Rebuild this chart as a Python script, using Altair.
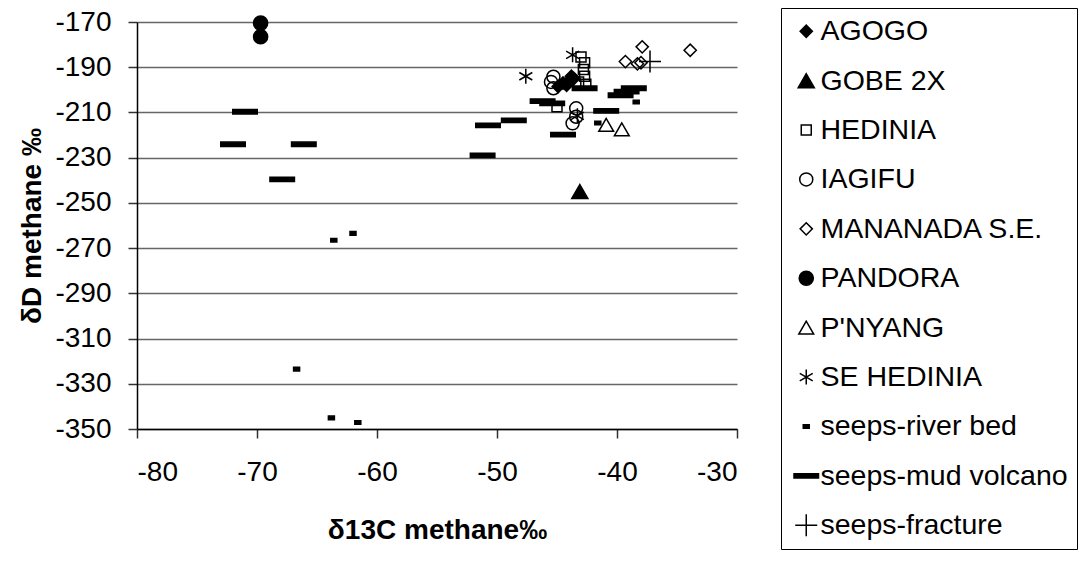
import altair as alt
import pandas as pd

series_names = ["AGOGO", "GOBE 2X", "HEDINIA", "IAGIFU", "MANANADA S.E.", "PANDORA",
                "P'NYANG", "SE HEDINIA", "seeps-river bed", "seeps-mud volcano", "seeps-fracture"]

agogo_x = [-44.9, -44.5, -44.0, -43.6, -44.2, -43.8]
agogo_y = [-198.5, -197.0, -196.0, -195.0, -198.0, -194.0]
gobe_x = [-43.1]
gobe_y = [-245.0]
hedinia_x = [-43.0, -42.7, -42.8, -42.7, -43.2, -42.6, -45.0]
hedinia_y = [-185.5, -188.0, -191.0, -194.0, -196.5, -197.5, -207.5]
iagifu_x = [-45.3, -45.3, -45.5, -43.4, -43.4, -43.7]
iagifu_y = [-194.2, -199.3, -196.5, -208.2, -211.9, -214.8]
mananada_x = [-37.9, -33.9, -39.3, -38.3, -38.0]
mananada_y = [-181.0, -182.5, -187.5, -188.5, -188.0]
pandora_x = [-69.7, -69.7]
pandora_y = [-170.5, -176.5]
pnyang_x = [-40.9, -39.6]
pnyang_y = [-215.5, -217.5]
sehed_x = [-47.6, -43.7, -43.3]
sehed_y = [-194.0, -184.5, -211.5]
river_x = [-62.0, -63.6, -66.7, -63.8, -61.6, -38.4, -41.6]
river_y = [-263.5, -266.5, -323.5, -345.1, -347.1, -205.4, -214.7]
mud_x = [-71.0, -72.0, -66.1, -67.9, -51.2, -50.75, -48.6, -46.2, -45.4, -44.5,
         -42.7, -40.9, -39.7, -39.2, -38.6]
mud_y = [-209.7, -224.1, -224.1, -239.6, -229.0, -215.7, -213.5, -205.0, -206.0, -219.8,
         -199.3, -209.3, -202.4, -200.8, -199.3]
frac_x = [-37.25]
frac_y = [-187.5]

x_ticks = [-80, -70, -60, -50, -40, -30]
y_ticks = [-350, -330, -310, -290, -270, -250, -230, -210, -190, -170]

all_x = [agogo_x, gobe_x, hedinia_x, iagifu_x, mananada_x, pandora_x, pnyang_x,
         sehed_x, river_x, mud_x, frac_x]
all_y = [agogo_y, gobe_y, hedinia_y, iagifu_y, mananada_y, pandora_y, pnyang_y,
         sehed_y, river_y, mud_y, frac_y]

rows = []
for name, xs, ys in zip(series_names, all_x, all_y):
    for xv, yv in zip(xs, ys):
        rows.append({"series": name, "x": xv, "y": yv})
df = pd.DataFrame(rows)

asterisk = "M0,-1V1M-0.866,-0.5L0.866,0.5M-0.866,0.5L0.866,-0.5"
river_shape = "M-1,-0.6H1V0.6H-1Z"
mud_shape = "M-1,-0.18H1V0.18H-1Z"
plus_shape = "M-1,0H1M0,-1V1"

shapes = ["diamond", "triangle-up", "square", "circle", "diamond", "circle",
          "triangle-up", asterisk, river_shape, mud_shape, plus_shape]
fills = ["black", "black", "transparent", "transparent", "transparent", "black",
         "transparent", "transparent", "black", "black", "transparent"]
strokes = ["black"] * len(series_names)
sizes = [150, 260, 100, 170, 150, 200, 220, 225, 36, 600, 484]

font = "Liberation Sans"

chart = alt.Chart(df).mark_point(
    filled=True, strokeWidth=1.5, opacity=1
).encode(
    x=alt.X("x:Q", scale=alt.Scale(domain=[-80, -30], nice=False, zero=False),
            axis=alt.Axis(values=x_ticks, grid=False, title="δ13C methane‰",
                          labelExpr="datum.value + ''",
                          labelPadding=20, titlePadding=30)),
    y=alt.Y("y:Q", scale=alt.Scale(domain=[-350, -170], nice=False, zero=False),
            axis=alt.Axis(values=y_ticks, grid=True, title="δD methane ‰",
                          labelExpr="datum.value + ''",
                          labelPadding=17, titlePadding=8)),
    shape=alt.Shape("series:N", sort=series_names,
                    scale=alt.Scale(domain=series_names, range=shapes)),
    fill=alt.Fill("series:N", sort=series_names,
                  scale=alt.Scale(domain=series_names, range=fills)),
    stroke=alt.Stroke("series:N", sort=series_names,
                      scale=alt.Scale(domain=series_names, range=strokes)),
    size=alt.Size("series:N", sort=series_names,
                  scale=alt.Scale(type="ordinal", domain=series_names, range=sizes)),
).properties(
    width=600, height=407,
    padding={"left": 129, "top": 14, "right": 341, "bottom": 124},
    autosize=alt.AutoSizeParams(type="none"),
).configure_view(
    stroke=None
).configure_axis(
    labelFont=font, labelFontSize=28, labelColor="black",
    titleFont=font, titleFontSize=28, titleFontWeight="bold", titleColor="black",
    domainColor="black", domainWidth=1.5, tickColor="#333333", tickSize=9, tickWidth=1.5,
    gridColor="#666666", gridWidth=1.5,
).configure_legend(
    orient="none", legendX=644, legendY=-14, title=None,
    strokeColor="black", padding=9, fillColor="white",
    labelFont=font, labelFontSize=28.5, labelColor="black", labelOffset=0,
    symbolOffset=2, rowPadding=20.4, symbolStrokeWidth=1.5,
    labelLimit=400,
)

chart.save("out.html", embed_options={"renderer": "svg", "actions": False})
